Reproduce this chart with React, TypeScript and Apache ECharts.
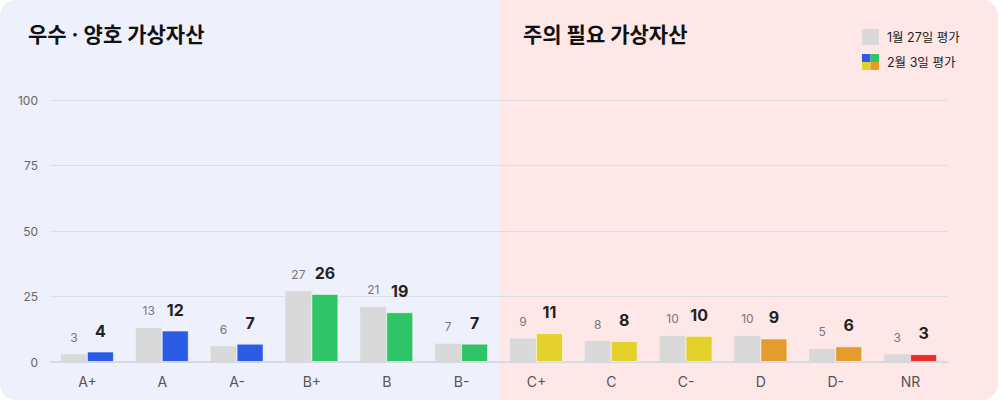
import React, { useEffect, useRef } from 'react';
import * as echarts from 'echarts';

const categories = ['A+', 'A', 'A-', 'B+', 'B', 'B-', 'C+', 'C', 'C-', 'D', 'D-', 'NR'];
const prevValues = [3, 13, 6, 27, 21, 7, 9, 8, 10, 10, 5, 3];
const currValues = [4, 12, 7, 26, 19, 7, 11, 8, 10, 9, 6, 3];
const currColors = [
  '#2c5ce6', '#2c5ce6', '#2c5ce6',
  '#2fc466', '#2fc466', '#2fc466',
  '#e5d12c', '#e5d12c', '#e5d12c',
  '#e59c2e', '#e59c2e',
  '#e5302e',
];
const yTicks = { min: 0, max: 100, interval: 25 };
const seriesNames = ['1월 27일 평가', '2월 3일 평가'];

const COLORS = {
  PREV: '#d9d9d9',
  LEFT_BG: '#eef0fc',
  RIGHT_BG: '#fee7e7',
  SPLIT: '#dcdee5',
  AXIS: '#d3d6de',
  TITLE: '#111111',
  LABEL: '#555555',
};

const FONT = "Inter, 'Noto Sans CJK KR', sans-serif";

const mixedIcon =
  'image://data:image/svg+xml;utf8,' +
  encodeURIComponent(
    '<svg xmlns="http://www.w3.org/2000/svg" width="16" height="16">' +
      '<rect x="0" y="0" width="8" height="8" fill="#2c5ce6"/>' +
      '<rect x="8" y="0" width="8" height="8" fill="#2fc466"/>' +
      '<rect x="0" y="8" width="8" height="8" fill="#e5d12c"/>' +
      '<rect x="8" y="8" width="8" height="8" fill="#e59c2e"/>' +
      '</svg>'
  );

const App: React.FC = () => {
  const divEL = useRef<HTMLDivElement>(null);

  useEffect(() => {
    const instance = echarts.init(divEL.current as any, null, { renderer: 'svg' });

    const option: echarts.EChartsOption = {
      animation: false,
      textStyle: { fontFamily: FONT },
      title: [
        {
          text: '우수 · 양호 가상자산',
          left: 28,
          top: 24,
          padding: 0,
          textStyle: { fontSize: 21, fontWeight: 'bold', color: COLORS.TITLE, fontFamily: FONT },
        },
        {
          text: '주의 필요 가상자산',
          left: 523,
          top: 24,
          padding: 0,
          textStyle: { fontSize: 21, fontWeight: 'bold', color: COLORS.TITLE, fontFamily: FONT },
        },
      ],
      legend: {
        orient: 'vertical',
        left: 862,
        top: 29,
        padding: 0,
        itemWidth: 17,
        itemHeight: 16,
        itemGap: 9,
        selectedMode: false,
        textStyle: { fontSize: 12.5, color: '#222', fontFamily: FONT, padding: [0, 0, 0, 3] },
        data: [
          { name: seriesNames[0], icon: 'rect', itemStyle: { color: COLORS.PREV } },
          { name: seriesNames[1], icon: mixedIcon },
        ],
      },
      grid: {
        left: 50,
        right: 50,
        top: 100,
        bottom: 38,
      },
      xAxis: {
        type: 'category',
        data: categories,
        axisTick: { show: false },
        axisLine: { lineStyle: { color: COLORS.AXIS, width: 1.5 } },
        axisLabel: { color: COLORS.LABEL, fontSize: 14, margin: 12, fontFamily: FONT },
      },
      yAxis: {
        type: 'value',
        min: yTicks.min,
        max: yTicks.max,
        interval: yTicks.interval,
        axisLine: { show: false },
        axisTick: { show: false },
        axisLabel: { color: '#666', fontSize: 12, margin: 12, fontFamily: FONT },
        splitLine: { lineStyle: { color: COLORS.SPLIT } },
      },
      series: [
        {
          name: seriesNames[0],
          type: 'bar',
          barWidth: 26,
          barGap: '0%',
          data: prevValues,
          itemStyle: { color: COLORS.PREV },
          label: {
            show: true,
            position: 'top',
            distance: 11,
            fontSize: 12,
            color: '#777',
            fontFamily: FONT,
          },
        },
        {
          name: seriesNames[1],
          type: 'bar',
          barWidth: 27,
          data: currValues.map((v, i) => ({
            value: v,
            itemStyle: {
              color: currColors[i],
              borderColor: 'rgba(255,255,255,0.55)',
              borderWidth: 1,
            },
          })),
          label: {
            show: true,
            position: 'top',
            distance: 13,
            fontSize: 16,
            fontWeight: 'bold',
            color: '#222',
            fontFamily: FONT,
          },
        },
      ],
    };

    instance.setOption(option);

    return () => {
      instance.dispose();
    };
  }, []);

  return (
    <div
      style={{
        position: 'absolute',
        left: 0,
        top: 0,
        width: 998,
        height: 400,
        borderRadius: 16,
        overflow: 'hidden',
        background: `linear-gradient(to right, ${COLORS.LEFT_BG} 0px, ${COLORS.LEFT_BG} 499px, ${COLORS.RIGHT_BG} 499px, ${COLORS.RIGHT_BG} 100%)`,
      }}
    >
      <div ref={divEL} style={{ width: 998, height: 400 }}></div>
    </div>
  );
};

export default App;
